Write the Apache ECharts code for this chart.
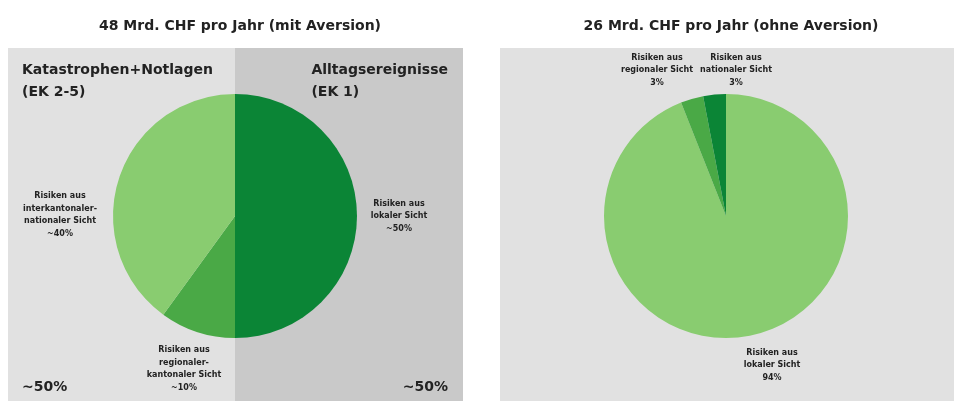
<!DOCTYPE html>
<html>
<head>
<meta charset="utf-8">
<script src="https://cdn.jsdelivr.net/npm/echarts@6/dist/echarts.min.js"></script>
<style>
  html, body { margin: 0; padding: 0; background: #fff; }
  #chart { width: 954px; height: 401px; }
</style>
</head>
<body>
<div id="chart"></div>
<script>
// Daten: linkes Diagramm (mit Aversion)
const leftNames = [
  'Risiken aus\nlokaler Sicht\n~50%',
  'Risiken aus\nregionaler-\nkantonaler Sicht\n~10%',
  'Risiken aus\ninterkantonaler-\nnationaler Sicht\n~40%'
]
const leftValues = [50, 10, 40]

// Daten: rechtes Diagramm (ohne Aversion)
const rightNames = [
  'Risiken aus\nlokaler Sicht\n94%',
  'Risiken aus\nregionaler Sicht\n3%',
  'Risiken aus\nnationaler Sicht\n3%'
]
const rightValues = [94, 3, 3]

const leftColors = ['#0b8536', '#4aa946', '#89cc70']
const rightColors = ['#89cc70', '#4aa946', '#0b8536']

const font = 'DejaVu Sans, sans-serif'

// Label-Positionen (Pixel)
const labelPos = [
  [{ x: 399, y: 216 }, { x: 184, y: 369 }, { x: 60, y: 215 }],
  [{ x: 772, y: 365 }, { x: 657, y: 70 }, { x: 736, y: 70 }]
]

const chart = echarts.init(document.getElementById('chart'))

function toData(names, values, colors) {
  return names.map((n, i) => ({ name: n, value: values[i], itemStyle: { color: colors[i] } }))
}

const labelStyle = {
  show: true,
  formatter: '{b}',
  color: '#222',
  fontFamily: font,
  fontWeight: 'bold',
  fontSize: 8,
  lineHeight: 12.5,
  align: 'center',
  overflow: 'none'
}

const titleStyle = { fontFamily: font, fontSize: 14, fontWeight: 'bold', color: '#222' }

chart.setOption({
  animation: false,
  title: [{
    text: '48 Mrd. CHF pro Jahr (mit Aversion)',
    left: 235,
    top: 14,
    textAlign: 'center',
    textStyle: titleStyle
  }, {
    text: '26 Mrd. CHF pro Jahr (ohne Aversion)',
    left: 726,
    top: 14,
    textAlign: 'center',
    textStyle: titleStyle
  }],
  graphic: [
    { type: 'rect', z: -10, shape: { x: 8, y: 48, width: 227, height: 353 }, style: { fill: '#e1e1e1' } },
    { type: 'rect', z: -10, shape: { x: 235, y: 48, width: 228, height: 353 }, style: { fill: '#c9c9c9' } },
    { type: 'rect', z: -10, shape: { x: 500, y: 48, width: 454, height: 353 }, style: { fill: '#e1e1e1' } },
    { type: 'text', left: 22, top: 59, style: { text: 'Katastrophen+Notlagen\n(EK 2-5)', font: 'bold 14px ' + font, fill: '#222', lineHeight: 22 } },
    { type: 'text', right: 954 - 448, top: 59, style: { text: 'Alltagsereignisse\n(EK 1)', font: 'bold 14px ' + font, fill: '#222', lineHeight: 22, align: 'right' } },
    { type: 'text', left: 22, top: 380, style: { text: '~50%', font: 'bold 14px ' + font, fill: '#222' } },
    { type: 'text', right: 954 - 448, top: 380, style: { text: '~50%', font: 'bold 14px ' + font, fill: '#222', align: 'right' } }
  ],
  series: [{
    type: 'pie',
    center: [235, 216],
    radius: 122,
    startAngle: 90,
    clockwise: true,
    label: labelStyle,
    labelLine: { show: false },
    labelLayout: p => Object.assign({ align: 'center', verticalAlign: 'middle' }, labelPos[0][p.dataIndex]),
    emphasis: { disabled: true },
    data: toData(leftNames, leftValues, leftColors)
  }, {
    type: 'pie',
    center: [726, 216],
    radius: 122,
    startAngle: 90,
    clockwise: true,
    label: labelStyle,
    labelLine: { show: false },
    labelLayout: p => Object.assign({ align: 'center', verticalAlign: 'middle' }, labelPos[1][p.dataIndex]),
    emphasis: { disabled: true },
    data: toData(rightNames, rightValues, rightColors)
  }]
})
</script>
</body>
</html>
